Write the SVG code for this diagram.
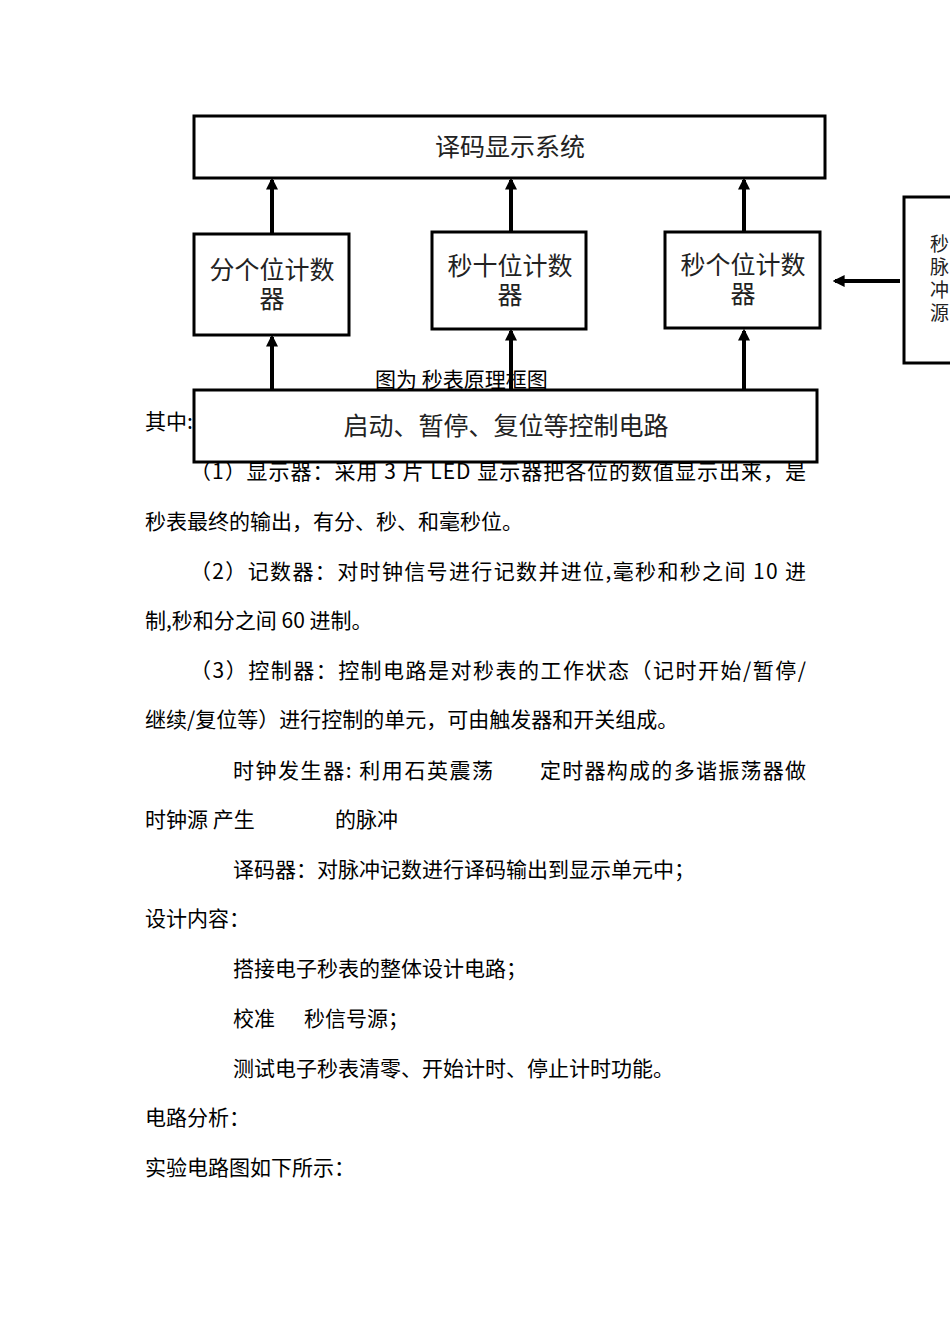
<svg xmlns="http://www.w3.org/2000/svg" width="950" height="1344" viewBox="0 0 950 1344">
<style>
.b{fill:#fff;stroke:#000;stroke-width:3}
.n{font-family:"Noto Sans CJK SC","Liberation Sans",sans-serif;font-size:25px;fill:#222;text-anchor:middle}
.p{font-family:"Noto Sans CJK SC","Liberation Sans",sans-serif;font-size:19px;fill:#222}
.t{font-family:"Noto Sans CJK SC","Liberation Sans",sans-serif;font-size:21px;fill:#000}
.c{stroke:#000;stroke-width:4;fill:none;marker-end:url(#a)}
</style>
<defs><marker id="a" viewBox="0 0 10 10" refX="8" refY="5" markerWidth="3" markerHeight="3" orient="auto"><path d="M0,0L10,5L0,10z" fill="#000"/></marker></defs>
<rect width="950" height="1344" fill="#fff"/>
<g id="connectors">
<line class="c" x1="272" y1="234" x2="272" y2="180"/>
<line class="c" x1="511" y1="232" x2="511" y2="180"/>
<line class="c" x1="744" y1="232" x2="744" y2="180"/>
<line class="c" x1="272" y1="390" x2="272" y2="337"/>
<line class="c" x1="511" y1="390" x2="511" y2="331"/>
<line class="c" x1="744" y1="390" x2="744" y2="331"/>
<line class="c" x1="900" y1="281" x2="835" y2="281"/>
</g>
<g id="display"><rect class="b" x="194" y="116" width="631" height="62"/><text class="n" x="510" y="156">译码显示系统</text></g>
<g id="min"><rect class="b" x="194" y="234" width="155" height="101"/><text class="n" x="272" y="279">分个位计数</text><text class="n" x="272" y="308">器</text></g>
<g id="sec10"><rect class="b" x="432" y="232" width="154" height="97"/><text class="n" x="510" y="275">秒十位计数</text><text class="n" x="510" y="304">器</text></g>
<g id="sec1"><rect class="b" x="665" y="232" width="155" height="96"/><text class="n" x="743" y="274">秒个位计数</text><text class="n" x="743" y="303">器</text></g>
<g id="pulse"><rect class="b" x="904" y="197" width="60" height="166"/><text class="p" x="930" y="251">秒</text><text class="p" x="930" y="274">脉</text><text class="p" x="930" y="297">冲</text><text class="p" x="930" y="320">源</text></g>
<text class="t" x="375" y="387" font-size="15">图为 秒表原理框图</text>
<text class="t" x="145" y="429">其中:</text>
<g id="ctrl"><rect class="b" x="194" y="390" width="623" height="72"/><text class="n" x="506" y="435">启动、暂停、复位等控制电路</text></g>
<text class="t" x="190" y="479" textLength="616">（1）显示器：采用 3 片 LED 显示器把各位的数值显示出来，是</text>
<text class="t" x="145" y="529">秒表最终的输出，有分、秒、和毫秒位。</text>
<text class="t" x="190" y="579" textLength="616">（2）记数器：对时钟信号进行记数并进位,毫秒和秒之间 10 进</text>
<text class="t" x="145" y="628">制,秒和分之间 60 进制。</text>
<text class="t" x="190" y="678" textLength="616">（3）控制器：控制电路是对秒表的工作状态（记时开始/暂停/</text>
<text class="t" x="145" y="727">继续/复位等）进行控制的单元，可由触发器和开关组成。</text>
<text class="t" x="233" y="778" textLength="260">时钟发生器: 利用石英震荡</text>
<text class="t" x="540" y="778" textLength="266">定时器构成的多谐振荡器做</text>
<text class="t" x="145" y="827">时钟源  产生</text>
<text class="t" x="335" y="827">的脉冲</text>
<text class="t" x="233" y="877">译码器：对脉冲记数进行译码输出到显示单元中；</text>
<text class="t" x="145" y="926">设计内容：</text>
<text class="t" x="233" y="976">搭接电子秒表的整体设计电路；</text>
<text class="t" x="233" y="1026">校准</text>
<text class="t" x="304" y="1026">秒信号源；</text>
<text class="t" x="233" y="1076">测试电子秒表清零、开始计时、停止计时功能。</text>
<text class="t" x="145" y="1125">电路分析：</text>
<text class="t" x="145" y="1175">实验电路图如下所示：</text>
</svg>
